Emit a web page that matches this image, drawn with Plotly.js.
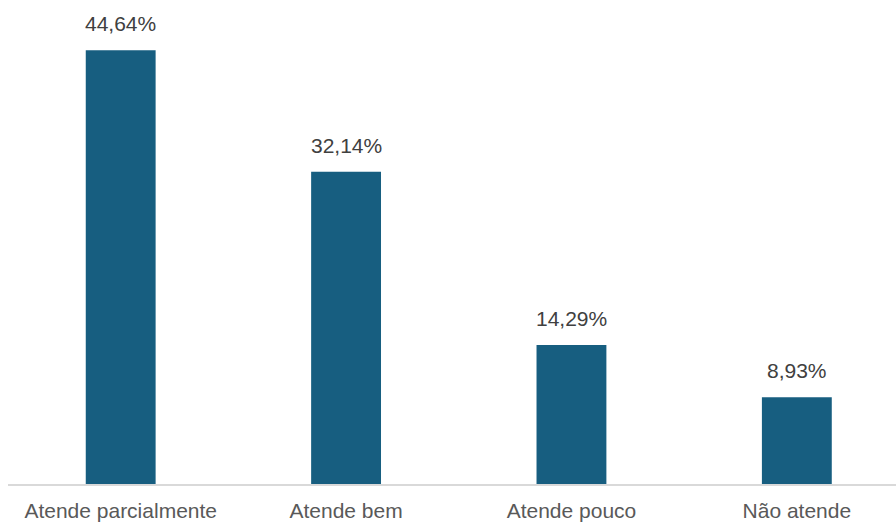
<!DOCTYPE html>
<html>
<head>
<meta charset="utf-8">
<script src="https://cdn.plot.ly/plotly-3.0.1.min.js"></script>
<style>html,body{margin:0;padding:0;background:#fff;}#chart{width:896px;height:522px;}</style>
</head>
<body>
<div id="chart"></div>
<script>
const categories = ["Atende parcialmente", "Atende bem", "Atende pouco", "Não atende"];
const values = [44.64, 32.14, 14.29, 8.93];
const labels = ["44,64%", "32,14%", "14,29%", "8,93%"];

const trace = {
  type: "bar",
  x: categories,
  y: values,
  marker: {color: "#175e80"},
  hoverinfo: "none"
};

const annotations = categories.map((c, i) => ({
  x: c, y: values[i], text: labels[i],
  xref: "x", yref: "y", showarrow: false,
  yanchor: "bottom", yshift: 13,
  font: {family: "Liberation Sans, Arial, sans-serif", size: 21, color: "#404040"}
}));

const layout = {
  width: 896, height: 522,
  margin: {l: 8, r: 0, t: 0, b: 38},
  paper_bgcolor: "#ffffff", plot_bgcolor: "#ffffff",
  bargap: 0.69,
  showlegend: false,
  xaxis: {
    type: "category",
    range: [-0.5, 3.44],
    showline: true, linecolor: "#d9d9d9", linewidth: 2,
    ticks: "", showgrid: false, zeroline: false,
    tickfont: {family: "Liberation Sans, Arial, sans-serif", size: 21, color: "#595959"},
    ticklabelstandoff: 7,
    fixedrange: true
  },
  yaxis: {
    range: [0, 49.8],
    visible: false, showgrid: false, zeroline: false,
    fixedrange: true
  },
  annotations: annotations
};

Plotly.newPlot("chart", [trace], layout, {displayModeBar: false, staticPlot: true});
</script>
</body>
</html>
